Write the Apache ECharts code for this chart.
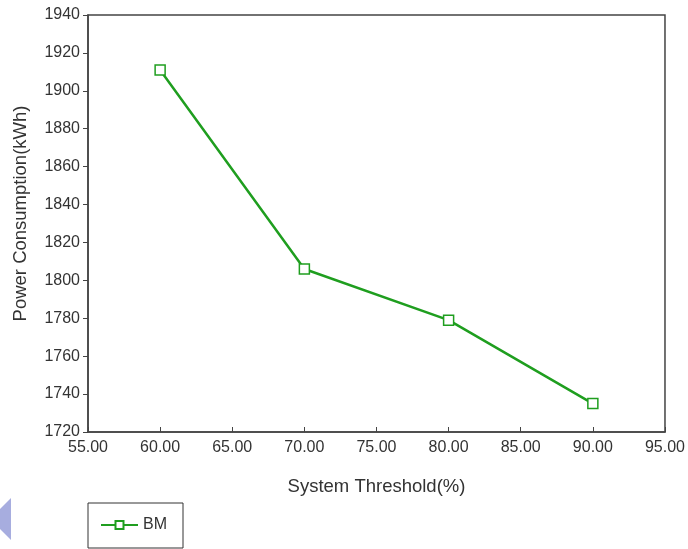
<!DOCTYPE html>
<html>
<head>
<meta charset="utf-8">
<script src="https://cdn.jsdelivr.net/npm/echarts@6/dist/echarts.min.js"></script>
<style>
  html, body { margin: 0; padding: 0; background: #fff; }
  #chart { width: 688px; height: 549px; }
</style>
</head>
<body>
<div id="chart"></div>
<script>
// data
var thresholds = [60, 70, 80, 90]
var power = [1911, 1806, 1779, 1735]
var seriesName = 'BM'

var xMin = 55, xMax = 95, xStep = 5
var yMin = 1720, yMax = 1940, yStep = 20

var green = '#1f9e1f'
var ink = '#333'
var font = 'Liberation Sans, Arial, sans-serif'

var chart = echarts.init(document.getElementById('chart'))

var option = {
  backgroundColor: '#fff',
  animation: false,
  grid: {
    left: 88, right: 20, top: 15, bottom: 117,
    show: true,
    borderColor: '#444',
    borderWidth: 1.5
  },
  xAxis: {
    type: 'value',
    min: xMin, max: xMax, interval: xStep,
    name: 'System Threshold(%)',
    nameLocation: 'middle',
    nameGap: 45,
    nameTextStyle: { color: ink, fontSize: 18.5, fontFamily: font },
    axisLine: { show: true, lineStyle: { color: '#444', width: 1.5 } },
    axisTick: { show: true, inside: true, length: 5, lineStyle: { color: '#444' } },
    axisLabel: {
      color: ink, fontSize: 16, fontFamily: font, margin: 8,
      formatter: function (v) { return v.toFixed(2) }
    },
    splitLine: { show: false }
  },
  yAxis: {
    type: 'value',
    min: yMin, max: yMax, interval: yStep,
    name: 'Power Consumption(kWh)',
    nameLocation: 'middle',
    nameGap: 58,
    nameTextStyle: { color: ink, fontSize: 18.5, fontFamily: font, padding: [0, 0, 0, 20] },
    axisLine: { show: true, lineStyle: { color: '#444', width: 1.5 } },
    axisTick: { show: true, inside: false, length: 5, lineStyle: { color: '#444' } },
    axisLabel: {
      color: ink, fontSize: 16, fontFamily: font, margin: 8,
      formatter: function (v) { return String(v) }
    },
    splitLine: { show: false }
  },
  legend: {
    left: 88, top: 503,
    data: [seriesName],
    borderColor: '#333',
    borderWidth: 1,
    padding: [14, 16, 15, 12],
    itemWidth: 37, itemHeight: 10,
    itemGap: 8,
    textStyle: { color: ink, fontSize: 16, fontFamily: font }
  },
  graphic: [{
    type: 'polygon',
    shape: { points: [[11, 498], [11, 540], [-10, 519]] },
    style: { fill: '#a7addf' }
  }],
  series: [{
    name: seriesName,
    type: 'line',
    data: thresholds.map(function (t, i) { return [t, power[i]] }),
    symbol: 'rect',
    symbolSize: 10,
    itemStyle: { color: '#fff', borderColor: green, borderWidth: 1.5 },
    lineStyle: { color: green, width: 2.5 }
  }]
}

chart.setOption(option)
</script>
</body>
</html>
